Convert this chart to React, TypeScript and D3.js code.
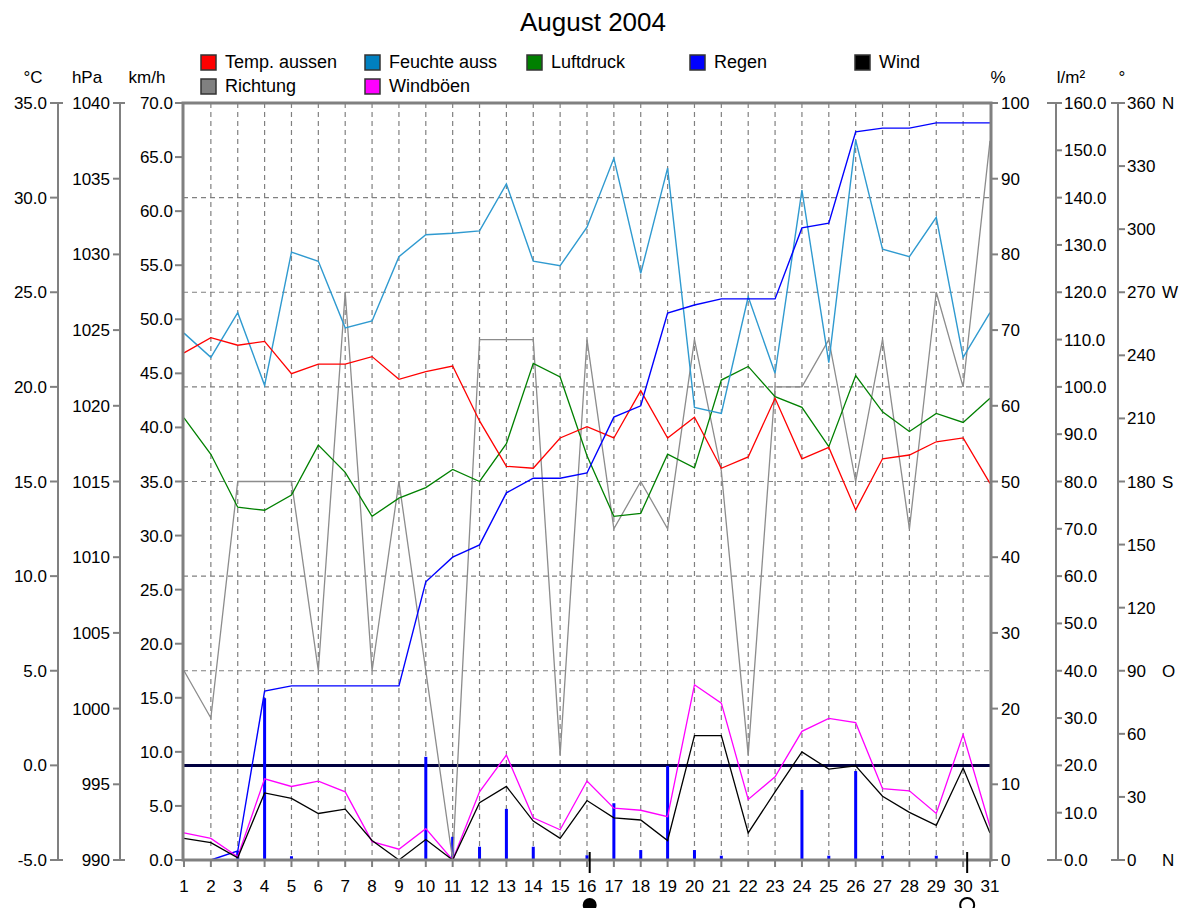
import React from 'react';
import * as d3 from 'd3';

// August 2004 weather station data, one value per day
const days = d3.range(1, 32);
const tempOut = [21.8, 22.6, 22.2, 22.4, 20.7, 21.2, 21.2, 21.6, 20.4, 20.8, 21.1, 18.2, 15.8, 15.7, 17.3, 17.9, 17.3, 19.8, 17.3, 18.4, 15.7, 16.3, 19.4, 16.2, 16.8, 13.5, 16.2, 16.4, 17.1, 17.3, 14.9];
const humidityOut = [69.6, 66.4, 72.3, 62.7, 80.3, 79.1, 70.3, 71.2, 79.7, 82.6, 82.8, 83.1, 89.3, 79.1, 78.5, 83.6, 92.7, 77.5, 91.4, 59.8, 59.0, 74.4, 64.3, 88.5, 65.7, 95.1, 80.7, 79.7, 84.9, 66.4, 72.3];
const pressure = [1019.2, 1016.8, 1013.3, 1013.1, 1014.1, 1017.4, 1015.6, 1012.7, 1013.9, 1014.6, 1015.8, 1015.0, 1017.5, 1022.8, 1021.9, 1016.7, 1012.7, 1012.9, 1016.8, 1015.9, 1021.7, 1022.6, 1020.6, 1019.9, 1017.3, 1022.0, 1019.6, 1018.3, 1019.5, 1018.9, 1020.5];
const rainTotal = [0, 0, 1.9, 35.7, 36.8, 36.8, 36.8, 36.8, 36.8, 58.8, 64.0, 66.6, 77.6, 80.7, 80.7, 81.8, 93.6, 96.0, 115.6, 117.3, 118.6, 118.6, 118.6, 133.6, 134.6, 153.9, 154.7, 154.7, 155.8, 155.8, 155.8];
const rainDay = [0, 0, 1.9, 34.2, 0.8, 0, 0, 0, 0, 21.8, 4.9, 2.8, 10.8, 2.8, 0, 1.0, 12.0, 2.1, 19.9, 2.1, 0.9, 0, 0, 14.8, 0.9, 18.8, 0.9, 0, 0.9, 0, 0];
const wind = [2.0, 1.6, 0.2, 6.2, 5.7, 4.3, 4.7, 1.8, 0, 1.9, 0, 5.3, 6.8, 3.6, 2.0, 5.5, 3.9, 3.7, 1.8, 11.5, 11.5, 2.5, 6.3, 10.0, 8.4, 8.7, 5.9, 4.4, 3.2, 8.5, 2.5];
const gusts = [2.5, 2.0, 0.3, 7.5, 6.8, 7.3, 6.3, 1.7, 1.0, 2.9, 0, 6.3, 9.7, 3.9, 2.8, 7.3, 4.8, 4.6, 4.0, 16.2, 14.5, 5.6, 7.7, 11.9, 13.1, 12.7, 6.6, 6.4, 4.3, 11.6, 3.1];
const direction = [90, 67.5, 180, 180, 180, 90, 270, 90, 180, 90, 0, 247.5, 247.5, 247.5, 50, 247.5, 157.5, 180, 157.5, 247.5, 185, 50, 225, 225, 247.5, 180, 247.5, 157.5, 270, 225, 342];

// moon phases: new moon and full moon
const newMoonDay = 16.1;
const fullMoonDay = 30.15;

const tempTicks = d3.range(-5, 35.1, 5);
const hpaTicks = d3.range(990, 1040.1, 5);
const kmhTicks = d3.range(0, 70.1, 5);
const pctTicks = d3.range(0, 100.1, 10);
const rainTicks = d3.range(0, 160.1, 10);
const dirTicks = d3.range(0, 360.1, 30);
const dirLetters: Record<number, string> = { 0: 'N', 90: 'O', 180: 'S', 270: 'W', 360: 'N' };

const legendRow1 = [
  { label: 'Temp. aussen', color: '#ff0000', x: 201 },
  { label: 'Feuchte auss', color: '#0080c0', x: 365 },
  { label: 'Luftdruck', color: '#008000', x: 527 },
  { label: 'Regen', color: '#0000ff', x: 690 },
  { label: 'Wind', color: '#000000', x: 855 },
];
const legendRow2 = [
  { label: 'Richtung', color: '#808080', x: 201 },
  { label: 'Windböen', color: '#ff00ff', x: 365 },
];

const W = 1191, H = 908;
const left = 183, right = 991, top = 103, bottom = 860;
const axisGray = '#808080';
const font = '"Liberation Sans", Arial, sans-serif';

export default function App() {
  const x = d3.scaleLinear().domain([1, 31]).range([left + 1, right - 1]);
  const yT = d3.scaleLinear().domain([-5, 35]).range([bottom, top]);
  const yP = d3.scaleLinear().domain([990, 1040]).range([bottom, top]);
  const yK = d3.scaleLinear().domain([0, 70]).range([bottom, top]);
  const yH = d3.scaleLinear().domain([0, 100]).range([bottom, top]);
  const yR = d3.scaleLinear().domain([0, 160]).range([bottom, top]);
  const yD = d3.scaleLinear().domain([0, 360]).range([bottom, top]);

  const mk = (vals: number[], y: d3.ScaleLinear<number, number>) =>
    d3.line<number>().x((_, i) => x(days[i])).y(v => y(v))(vals) || '';

  const series = [
    { d: mk(direction, yD), color: '#8c8c8c', w: 1.3 },
    { d: mk(pressure, yP), color: '#008000', w: 1.3 },
    { d: mk(humidityOut, yH), color: '#2f9ad0', w: 1.4 },
    { d: mk(tempOut, yT), color: '#ff0000', w: 1.3 },
    { d: mk(rainTotal, yR), color: '#0000ff', w: 1.4 },
    { d: mk(gusts, yK), color: '#ff00ff', w: 1.3 },
    { d: mk(wind, yK), color: '#000000', w: 1.3 },
  ];

  const txt = { fontFamily: font, fontSize: 17, fill: '#000' };

  return (
    <svg width={W} height={H} style={{ position: 'absolute', left: 0, top: 0, background: '#fff' }}>
      <rect width={W} height={H} fill="#fff" />
      <text x={593} y={31} textAnchor="middle" style={{ ...txt, fontSize: 26 }}>August 2004</text>

      {/* legend */}
      {[...legendRow1.map(l => ({ ...l, y: 55 })), ...legendRow2.map(l => ({ ...l, y: 79 }))].map(l => (
        <g key={l.label}>
          <rect x={l.x} y={l.y} width={15} height={15} fill={l.color} stroke="#333" strokeWidth={1.5} />
          <text x={l.x + 24} y={l.y + 13} style={{ ...txt, fontSize: 18 }}>{l.label}</text>
        </g>
      ))}

      {/* unit labels */}
      <text x={33} y={83} textAnchor="middle" style={txt}>°C</text>
      <text x={87} y={83} textAnchor="middle" style={txt}>hPa</text>
      <text x={147} y={83} textAnchor="middle" style={txt}>km/h</text>
      <text x={998} y={83} textAnchor="middle" style={txt}>%</text>
      <text x={1071} y={83} textAnchor="middle" style={txt}>l/m²</text>
      <text x={1122} y={83} textAnchor="middle" style={txt}>°</text>

      {/* grid */}
      {days.slice(1, 30).map(d => (
        <line key={'vg' + d} x1={x(d)} x2={x(d)} y1={top} y2={bottom} stroke="#808080" strokeWidth={1.2} strokeDasharray="5,4" />
      ))}
      {tempTicks.filter(t => t > 0 && t < 35).map(t => (
        <line key={'hg' + t} x1={left} x2={right} y1={yT(t)} y2={yT(t)} stroke="#808080" strokeWidth={1.2} strokeDasharray="5,4" />
      ))}
      <line x1={left} x2={right} y1={yT(0)} y2={yT(0)} stroke="#000040" strokeWidth={3} />

      {/* daily rain bars */}
      {rainDay.map((r, i) => r > 0 ? (
        <rect key={'rb' + i} x={x(days[i]) - 1.5} y={yR(r)} width={3} height={bottom - yR(r)} fill="#0000ff" />
      ) : null)}

      {series.map((s, i) => (
        <path key={'s' + i} d={s.d} fill="none" stroke={s.color} strokeWidth={s.w} strokeLinejoin="miter" />
      ))}

      {/* plot frame */}
      <rect x={left} y={top} width={right - left} height={bottom - top} fill="none" stroke={axisGray} strokeWidth={3} />

      {/* °C axis */}
      <line x1={58} x2={58} y1={top} y2={bottom} stroke={axisGray} strokeWidth={2} />
      {tempTicks.map(t => (
        <g key={'tt' + t}>
          <line x1={50} x2={(t === 35 || t === -5) ? 63 : 58} y1={yT(t)} y2={yT(t)} stroke={axisGray} strokeWidth={2} />
          <text x={47} y={yT(t) + 6} textAnchor="end" style={txt}>{t.toFixed(1)}</text>
        </g>
      ))}

      {/* hPa axis */}
      <line x1={120} x2={120} y1={top} y2={bottom} stroke={axisGray} strokeWidth={2} />
      {hpaTicks.map(t => (
        <g key={'hp' + t}>
          <line x1={113} x2={(t === 990 || t === 1040) ? 125 : 120} y1={yP(t)} y2={yP(t)} stroke={axisGray} strokeWidth={2} />
          <text x={110} y={yP(t) + 6} textAnchor="end" style={txt}>{t}</text>
        </g>
      ))}

      {/* km/h axis */}
      {kmhTicks.map(t => (
        <g key={'km' + t}>
          <line x1={175} x2={left} y1={yK(t)} y2={yK(t)} stroke={axisGray} strokeWidth={2} />
          <text x={173} y={yK(t) + 6} textAnchor="end" style={txt}>{t.toFixed(1)}</text>
        </g>
      ))}

      {/* % axis */}
      {pctTicks.map(t => (
        <g key={'pc' + t}>
          <line x1={right} x2={998} y1={yH(t)} y2={yH(t)} stroke={axisGray} strokeWidth={2} />
          <text x={1001} y={yH(t) + 6} style={txt}>{t}</text>
        </g>
      ))}

      {/* l/m² axis */}
      <line x1={1056} x2={1056} y1={top} y2={bottom} stroke={axisGray} strokeWidth={2} />
      {rainTicks.map(t => (
        <g key={'rn' + t}>
          <line x1={(t === 0 || t === 160) ? 1047 : 1056} x2={1062} y1={yR(t)} y2={yR(t)} stroke={axisGray} strokeWidth={2} />
          <text x={1064} y={yR(t) + 6} style={txt}>{t.toFixed(1)}</text>
        </g>
      ))}

      {/* direction axis */}
      <line x1={1118} x2={1118} y1={top} y2={bottom} stroke={axisGray} strokeWidth={2} />
      {dirTicks.map(t => (
        <g key={'dr' + t}>
          <line x1={(t === 0 || t === 360) ? 1111 : 1118} x2={1125} y1={yD(t)} y2={yD(t)} stroke={axisGray} strokeWidth={2} />
          <text x={1127} y={yD(t) + 6} style={txt}>{t}</text>
          {dirLetters[t] ? <text x={1162} y={yD(t) + 6} style={txt}>{dirLetters[t]}</text> : null}
        </g>
      ))}

      {/* x axis */}
      {days.map(d => (
        <g key={'xd' + d}>
          <line x1={x(d)} x2={x(d)} y1={bottom} y2={bottom + 7} stroke={axisGray} strokeWidth={2} />
          <text x={x(d)} y={892} textAnchor="middle" style={txt}>{d}</text>
        </g>
      ))}

      {/* moon phases */}
      <line x1={x(newMoonDay)} x2={x(newMoonDay)} y1={852} y2={873} stroke="#000" strokeWidth={2} />
      <circle cx={x(newMoonDay)} cy={905} r={7} fill="#000" />
      <line x1={x(fullMoonDay)} x2={x(fullMoonDay)} y1={852} y2={873} stroke="#000" strokeWidth={2} />
      <circle cx={x(fullMoonDay)} cy={905} r={7} fill="#fff" stroke="#000" strokeWidth={2} />
    </svg>
  );
}
